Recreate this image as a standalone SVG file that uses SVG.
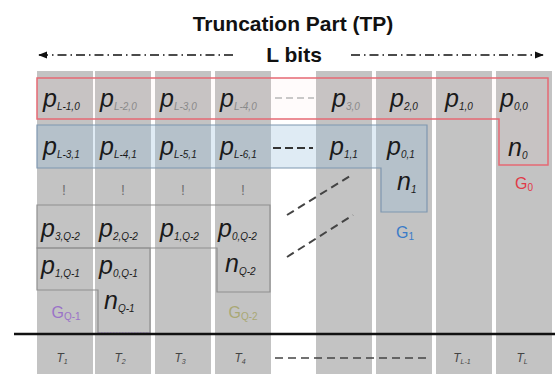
<svg xmlns="http://www.w3.org/2000/svg" width="555" height="374" viewBox="0 0 555 374">
<defs>
<style>
.col{fill:#c3c3c3}
.t{font-family:"Liberation Sans",Arial,sans-serif}
.p{font-family:"Liberation Sans",Arial,sans-serif;font-style:italic;font-size:25px;fill:#1a1a1a}
.s{font-size:10px}
.f{fill:#8a8a8a}
.ex{font-family:"Liberation Sans",Arial,sans-serif;font-size:14px;fill:#707070}
.T{font-family:"Liberation Sans",Arial,sans-serif;font-style:italic;font-size:12px;fill:#444}
.grp{fill:none;stroke:#8f8f8f;stroke-width:1.2}
.gl{font-family:"Liberation Sans",Arial,sans-serif;font-size:16px}
</style>
<marker id="ah" viewBox="0 0 10 10" refX="9" refY="5" markerWidth="9" markerHeight="9" orient="auto-start-reverse" markerUnits="userSpaceOnUse">
<path d="M0,1 L10,5 L0,9 Z" fill="#111"/>
</marker>
</defs>
<rect width="555" height="374" fill="#fff"/>
<g id="columns">
<rect class="col" x="37" y="71" width="56" height="303"/>
<rect class="col" x="95" y="71" width="56" height="303"/>
<rect class="col" x="155" y="71" width="56" height="303"/>
<rect class="col" x="215" y="71" width="56" height="303"/>
<rect class="col" x="316" y="71" width="56" height="303"/>
<rect class="col" x="376" y="71" width="56" height="303"/>
<rect class="col" x="436" y="71" width="56" height="303"/>
<rect class="col" x="496" y="71" width="56" height="303"/>
</g>
<g id="title">
<text class="t" x="293" y="31" text-anchor="middle" font-size="21" font-weight="bold" fill="#111">Truncation Part (TP)</text>
<text class="t" x="294" y="62" text-anchor="middle" font-size="21" font-weight="bold" fill="#111">L bits</text>
</g>
<g id="G1">
<path d="M37,125 H427 V212 H381 V168 H37 Z" fill="rgba(150,190,220,0.3)" stroke="#7f97b0" stroke-width="1.2"/>
<text class="gl" x="405" y="238" text-anchor="middle" fill="#3a7bc8">G<tspan font-size="10" dy="2">1</tspan></text>
</g>
<g id="G0">
<path d="M37,78 H548 V165 H499 V119 H37 Z" fill="rgba(255,200,205,0.08)" stroke="#e66a74" stroke-width="1.5"/>
<text class="gl" x="524" y="189" text-anchor="middle" fill="#e03a48">G<tspan font-size="10" dy="2">0</tspan></text>
</g>
<g id="GQ2">
<path class="grp" d="M37,205 H270 V292 H217 V248 H37 Z"/>
<text class="gl" x="243" y="318" text-anchor="middle" fill="#a9a874">G<tspan font-size="10" dy="2">Q-2</tspan></text>
</g>
<g id="GQ1">
<path class="grp" d="M37,248 H150 V333 H98 V290 H37 Z"/>
<path d="M98,333 H150" stroke="#9a78c8" stroke-width="1.2" stroke-dasharray="1.5,1.5" fill="none"/>
<text class="gl" x="66" y="318" text-anchor="middle" fill="#9a72c8">G<tspan font-size="10" dy="2">Q-1</tspan></text>
</g>
<g id="row0">
<text class="p" x="43" y="107">p<tspan class="s" dy="3">L-1,0</tspan></text>
<text class="p" x="100" y="107">p<tspan class="s f" dy="3">L-2,0</tspan></text>
<text class="p" x="160" y="107">p<tspan class="s f" dy="3">L-3,0</tspan></text>
<text class="p" x="220" y="107">p<tspan class="s f" dy="3">L-4,0</tspan></text>
<text class="p" x="332" y="107">p<tspan class="s f" dy="3">3,0</tspan></text>
<text class="p" x="390" y="107">p<tspan class="s" dy="3">2,0</tspan></text>
<text class="p" x="445" y="107">p<tspan class="s" dy="3">1,0</tspan></text>
<text class="p" x="500" y="107">p<tspan class="s" dy="3">0,0</tspan></text>
<text class="p" x="508" y="156" font-size="22">n<tspan class="s" dy="3">0</tspan></text>
</g>
<g id="row1">
<text class="p" x="43" y="155">p<tspan class="s" dy="3">L-3,1</tspan></text>
<text class="p" x="100" y="155">p<tspan class="s" dy="3">L-4,1</tspan></text>
<text class="p" x="160" y="155">p<tspan class="s" dy="3">L-5,1</tspan></text>
<text class="p" x="220" y="155">p<tspan class="s" dy="3">L-6,1</tspan></text>
<text class="p" x="330" y="155">p<tspan class="s" dy="3">1,1</tspan></text>
<text class="p" x="387" y="155">p<tspan class="s" dy="3">0,1</tspan></text>
<text class="p" x="397" y="190" font-size="22">n<tspan class="s" dy="3">1</tspan></text>
</g>
<g id="rowdots">
<text class="ex" x="64" y="195" text-anchor="middle">!</text>
<text class="ex" x="123" y="195" text-anchor="middle">!</text>
<text class="ex" x="183" y="195" text-anchor="middle">!</text>
<text class="ex" x="243" y="195" text-anchor="middle">!</text>
</g>
<g id="rowQ2">
<text class="p" x="41" y="237">p<tspan class="s" dy="3">3,Q-2</tspan></text>
<text class="p" x="99" y="237">p<tspan class="s" dy="3">2,Q-2</tspan></text>
<text class="p" x="160" y="237">p<tspan class="s" dy="3">1,Q-2</tspan></text>
<text class="p" x="218" y="237">p<tspan class="s" dy="3">0,Q-2</tspan></text>
<text class="p" x="225" y="272" font-size="22">n<tspan class="s" dy="3">Q-2</tspan></text>
</g>
<g id="rowQ1">
<text class="p" x="41" y="274" font-size="23">p<tspan class="s" dy="3">1,Q-1</tspan></text>
<text class="p" x="99" y="274" font-size="23">p<tspan class="s" dy="3">0,Q-1</tspan></text>
<text class="p" x="104" y="309" font-size="20">n<tspan class="s" dy="3">Q-1</tspan></text>
</g>
<g id="bits">
<text class="T" x="62" y="362" text-anchor="middle">T<tspan font-size="7" dy="2">1</tspan></text>
<text class="T" x="120" y="362" text-anchor="middle">T<tspan font-size="7" dy="2">2</tspan></text>
<text class="T" x="180" y="362" text-anchor="middle">T<tspan font-size="7" dy="2">3</tspan></text>
<text class="T" x="240" y="362" text-anchor="middle">T<tspan font-size="7" dy="2">4</tspan></text>
<text class="T" x="462" y="362" text-anchor="middle">T<tspan font-size="7" dy="2">L-1</tspan></text>
<text class="T" x="522" y="362" text-anchor="middle">T<tspan font-size="7" dy="2">L</tspan></text>
</g>
<g id="connectors">
<path d="M233,55 H39" stroke="#111" stroke-width="1.3" stroke-dasharray="9,4,1.5,4" fill="none" marker-end="url(#ah)"/>
<path d="M351,55 H543" stroke="#111" stroke-width="1.3" stroke-dasharray="9,4,1.5,4" fill="none" marker-end="url(#ah)"/>
<path d="M275,98 H314" stroke="#b8b8b8" stroke-width="1.5" stroke-dasharray="7,4" fill="none"/>
<path d="M273,148 H313" stroke="#333" stroke-width="2" stroke-dasharray="8,4" fill="none"/>
<path d="M287,215 L350,176" stroke="#444" stroke-width="2" stroke-dasharray="8,5" fill="none"/>
<path d="M287,257 L353,215" stroke="#444" stroke-width="2" stroke-dasharray="8,5" fill="none"/>
<path d="M275,358 H430" stroke="#444" stroke-width="1.5" stroke-dasharray="8,5" fill="none"/>
<path d="M14,334 H555" stroke="#111" stroke-width="2.5" fill="none"/>
</g>
</svg>
